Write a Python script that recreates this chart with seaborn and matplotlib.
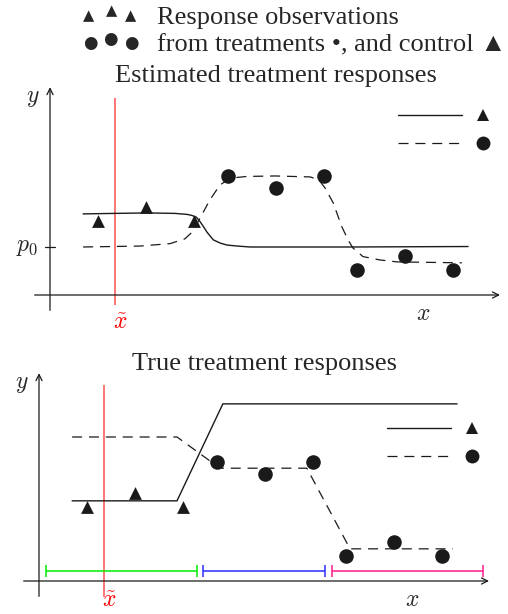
import matplotlib
matplotlib.use('Agg')
import matplotlib.pyplot as plt
from matplotlib.lines import Line2D
import seaborn as sns

# observations, the same in both panels (x units ~ one spacing between controls)
ctrl_x = [1.0, 2.0, 3.0]
ctrl_y = [1.55, 1.83, 1.55]
trt_x = [3.7, 4.7, 5.7, 6.4, 7.4, 8.4]
trt_y = [2.48, 2.22, 2.48, 0.53, 0.81, 0.53]

x_tilde = 1.35
p0 = 1.0

# estimated responses (top panel)
est_ctrl_x = [0.69, 1.35, 2.02, 2.6, 2.85, 2.95, 3.05, 3.125, 3.2, 3.27, 3.40, 3.55, 3.69, 3.9, 4.17, 6.25, 8.71]
est_ctrl_y = [1.69, 1.70, 1.71, 1.70, 1.68, 1.66, 1.62, 1.53, 1.42, 1.31, 1.15, 1.08, 1.04, 1.02, 1.0, 1.0, 1.01]
est_trt_x = [0.69, 1.875, 2.5, 2.81, 2.95, 3.125, 3.33, 3.54, 3.7, 3.81, 4.1, 4.69, 5.42, 5.6, 5.73, 5.90,
             6.08, 6.21, 6.31, 6.52, 6.875, 7.23, 8.58]
est_trt_y = [1.0, 1.02, 1.07, 1.17, 1.30, 1.60, 1.98, 2.29, 2.40, 2.44, 2.47, 2.48, 2.46, 2.40, 2.23, 1.92,
             1.42, 1.15, 0.98, 0.80, 0.73, 0.69, 0.67]

# true responses (bottom panel)
true_ctrl_x = [0.69, 2.875, 3.83, 8.71]
true_ctrl_y = [1.67, 1.67, 3.69, 3.69]
true_trt_x = [0.69, 2.875, 3.77, 5.58, 6.48, 8.625]
true_trt_y = [3.0, 3.0, 2.35, 2.35, 0.67, 0.67]

# intervals under the bottom panel
region_start = [0.15, 3.42, 6.10]
region_end = [3.29, 5.96, 9.25]
region_colors = ['#00ee00', '#2b2bff', '#ff1a8c']
region_y = 0.21

sns.set_theme(style='white')
plt.rcParams['font.family'] = ['Liberation Serif', 'DejaVu Sans']
plt.rcParams['mathtext.fontset'] = 'cm'

W, H = 508, 614
PX = 48.0  # pixels per data unit
fig = plt.figure(figsize=(W / 100, H / 100), dpi=100)


def make_axes(ox, oy, top, bottom):
    # axes spanning the whole width, origin of data at pixel (ox, oy)
    ax = fig.add_axes([0, 1 - bottom / H, 1, (bottom - top) / H])
    ax.set_xlim(-ox / PX, (W - ox) / PX)
    ax.set_ylim((oy - bottom) / PX, (oy - top) / PX)
    ax.axis('off')
    return ax


def draw_frame(ax):
    arrow = dict(arrowstyle='->', lw=0.9, color='k', shrinkA=0, shrinkB=0, mutation_scale=11)
    ax.annotate('', xy=(9.375, 0), xytext=(-0.32, 0), arrowprops=arrow)
    ax.annotate('', xy=(0, 4.33), xytext=(0, -0.32), arrowprops=arrow)
    ax.text(-0.35, 4.1, '$y$', fontsize=17, ha='center', va='center')
    ax.text(7.77, -0.4, '$x$', fontsize=17, ha='center', va='center')


def draw_obs(ax):
    sns.scatterplot(x=ctrl_x, y=ctrl_y, ax=ax, marker='^', s=85, color='k',
                    linewidth=0, zorder=4, clip_on=False)
    sns.scatterplot(x=trt_x, y=trt_y, ax=ax, marker='o', s=110, color='k',
                    linewidth=0, zorder=4, clip_on=False)


def draw_curves(ax, cx, cy, tx, ty):
    sns.lineplot(x=cx, y=cy, ax=ax, color='k', lw=1.0, sort=False, estimator=None)
    sns.lineplot(x=tx, y=ty, ax=ax, color='k', lw=0.9, sort=False, estimator=None)
    ax.lines[-1].set_dashes((8, 5.5))


def draw_key(ax, y_mid):
    solid = Line2D([], [], color='k', lw=1.0)
    dashed = Line2D([], [], color='k', lw=0.9, dashes=(8, 5.5))
    tri = Line2D([], [], color='k', marker='^', ls='none', markersize=8.5, markeredgewidth=0)
    circ = Line2D([], [], color='k', marker='o', ls='none', markersize=10, markeredgewidth=0)
    ax.legend(handles=[solid, dashed, tri, circ], labels=['', '', '', ''], ncol=2,
              loc='center left', bbox_to_anchor=(7.25, y_mid), bbox_transform=ax.transData,
              frameon=False, fontsize=10, handlelength=4.6, handletextpad=0,
              columnspacing=-0.75, labelspacing=1.1, borderpad=0, borderaxespad=0)


# ---- top panel: estimated responses
ax1 = make_axes(50, 295, 55, 335)
draw_frame(ax1)
ax1.plot([-0.1, 0.1], [p0, p0], color='k', lw=0.9)
ax1.text(-0.25, p0, '$p_0$', fontsize=17, ha='right', va='center')
ax1.vlines(x_tilde, -0.21, 4.1, color='#ff5050', lw=1.1)
ax1.text(x_tilde + 0.12, -0.6, r'$\tilde{x}$', fontsize=17, color='red', ha='center', va='center')
draw_curves(ax1, est_ctrl_x, est_ctrl_y, est_trt_x, est_trt_y)
draw_obs(ax1)
draw_key(ax1, 3.43)

# ---- bottom panel: true responses
ax2 = make_axes(39, 581, 350, 614)
draw_frame(ax2)
ax2.vlines(x_tilde, -0.33, 4.08, color='#ff5050', lw=1.1)
ax2.text(x_tilde + 0.12, -0.43, r'$\tilde{x}$', fontsize=17, color='red', ha='center', va='center')
draw_curves(ax2, true_ctrl_x, true_ctrl_y, true_trt_x, true_trt_y)
draw_obs(ax2)
for s, e, c in zip(region_start, region_end, region_colors):
    ax2.errorbar((s + e) / 2, region_y, xerr=(e - s) / 2, color=c, lw=1.1,
                 capsize=4.5, capthick=1.1, fmt='none')
draw_key(ax2, 2.875)

# ---- header and titles
fs = 19
fig.text(157 / W, 1 - 24 / H, 'Response observations', fontsize=fs, ha='left', va='baseline')
fig.text(157 / W, 1 - 51 / H, 'from treatments \u2022, and control \u25b2',
         fontsize=fs, ha='left', va='baseline')
fig.text(276 / W, 1 - 82 / H, 'Estimated treatment responses', fontsize=fs, ha='center', va='baseline')
fig.text(265 / W, 1 - 370 / H, 'True treatment responses', fontsize=fs, ha='center', va='baseline')

head_tri_x = [89, 112, 131]
head_tri_y = [16, 11, 16]
head_dot_x = [90, 110, 131]
head_dot_y = [43, 39, 43]
for hx, hy in zip(head_tri_x, head_tri_y):
    fig.text(hx / W, 1 - hy / H, '\u25b2', fontsize=10.5, ha='center', va='center',
             family='DejaVu Sans')
for hx, hy in zip(head_dot_x, head_dot_y):
    fig.text(hx / W, 1 - hy / H, '\u25cf', fontsize=12, ha='center', va='center',
             family='DejaVu Sans')

fig.savefig('out.png', dpi=100)
